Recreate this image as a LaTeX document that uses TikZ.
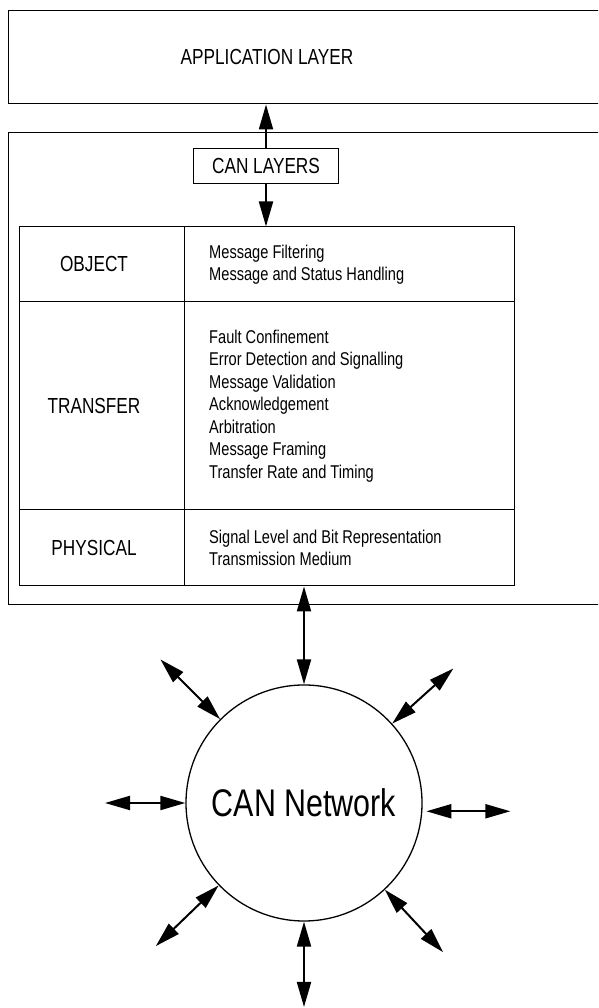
\documentclass[tikz,border=0pt]{standalone}
\usepackage{fontspec}
\setmainfont{Liberation Sans}[FakeStretch=0.79]
\usetikzlibrary{arrows.meta,positioning,calc}

\tikzset{
	box/.style={draw,line width=1pt,inner sep=0pt},
	lbl/.style={font=\fontsize{21.8}{24}\selectfont},
	desc/.style={font=\fontsize{18.5}{22.5}\selectfont,align=left,anchor=west,inner sep=0pt},
	link/.style={line width=2pt}
}

\begin{document}
\begin{tikzpicture}[x=1pt,y=1pt,>={Triangle[length=25pt,width=14pt]}]
	\clip (0,0) rectangle (598,1008);
	% top and outer frames
	\node (app) [box,minimum width=620,minimum height=93,anchor=north west] at (7.5,997.5) {};
	\node (applbl) [lbl] at (267,951) {APPLICATION LAYER};
	\node (outer) [box,minimum width=620,minimum height=472,anchor=north west] at (7.5,875.5) {};
	\node (canl) [box,lbl,minimum width=145,minimum height=35] at (266,842) {CAN LAYERS};
	% table cells
	\node (objl) [box,minimum width=165,minimum height=75,anchor=north west] at (18.5,781.5) {};
	\node (objr) [box,minimum width=330,minimum height=75,anchor=north west] at (183.5,781.5) {};
	\node (trl) [box,minimum width=165,minimum height=208,anchor=north west] at (18.5,706.5) {};
	\node (trr) [box,minimum width=330,minimum height=208,anchor=north west] at (183.5,706.5) {};
	\node (phl) [box,minimum width=165,minimum height=76,anchor=north west] at (18.5,498.5) {};
	\node (phr) [box,minimum width=330,minimum height=76,anchor=north west] at (183.5,498.5) {};
	\node (obj) [lbl] at (94,0 |- objl) {OBJECT};
	\node (tr) [lbl] at (94,0 |- trl) {TRANSFER};
	\node (ph) [lbl] at (94,0 |- phl) {PHYSICAL};
	\node (objd) [desc] at (209,0 |- objr) {Message Filtering\\Message and Status Handling};
	\node (trd) [desc] at (209,0 |- trr) {Fault Confinement\\Error Detection and Signalling\\Message Validation\\Acknowledgement\\Arbitration\\Message Framing\\Transfer Rate and Timing};
	\node (phd) [desc] at (209,0 |- phr) {Signal Level and Bit Representation\\Transmission Medium};
	% network
	\node (net) [draw,circle,line width=1.3pt,minimum size=236,inner sep=0pt,font=\fontsize{38.5}{42}\selectfont] at (304,205) {CAN Network};
	\coordinate (ul) at ($(net)+(135:203)$);
	\coordinate (ur) at ($(net)+(42:201)$);
	\coordinate (l) at ($(net)+(180:199)$);
	\coordinate (r) at ($(net.-4)+(88,0)$);
	\coordinate (ll) at ($(net)+(-136:206)$);
	\coordinate (lr) at ($(net)+(-47:204)$);
	\coordinate (b) at ($(net)+(-90:204)$);
	\draw[link,->] (canl.north) -- (canl.north |- app.south);
	\draw[link,->] (canl.south) -- (canl.south |- objr.north);
	\draw[link,<->] (net.north) -- (net.north |- phr.south);
	\draw[link,<->] (net.135) -- (ul);
	\draw[link,<->] (net.42) -- (ur);
	\draw[link,<->] (net.west) -- (l);
	\draw[link,<->] ([xshift=4pt]net.-4) -- (r);
	\draw[link,<->] (net.-136) -- (ll);
	\draw[link,<->] (net.-47) -- (lr);
	\draw[link,<->] (net.south) -- (b);
\end{tikzpicture}
\end{document}
